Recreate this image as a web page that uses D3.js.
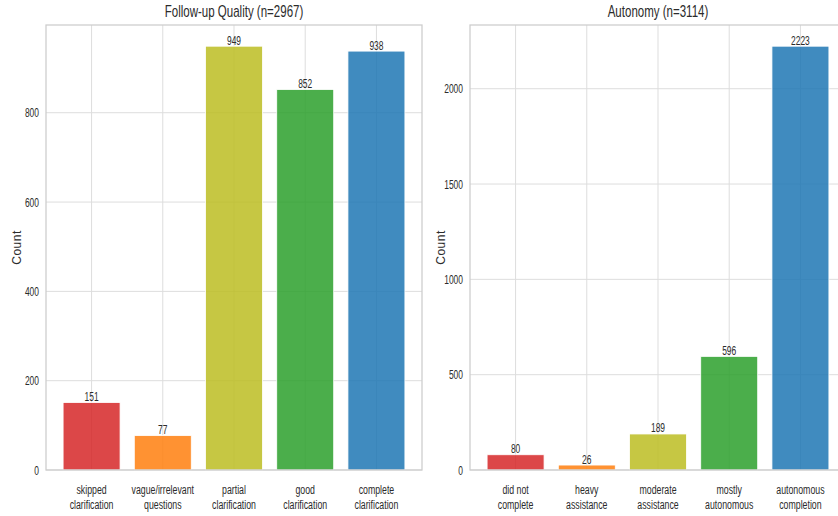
<!DOCTYPE html>
<html>
<head>
<meta charset="utf-8">
<script src="https://cdn.jsdelivr.net/npm/d3@7"></script>
<style>
  body { margin: 0; background: #fff; }
  text { font-family: "Liberation Sans", Arial, sans-serif; fill: #2b2b2b; }
</style>
</head>
<body>
<div id="chart"></div>
<script>
// data
var followCats = ["skipped\nclarification", "vague/irrelevant\nquestions", "partial\nclarification", "good\nclarification", "complete\nclarification"];
var followVals = [151, 77, 949, 852, 938];
var followTicks = [0, 200, 400, 600, 800];

var autoCats = ["did not\ncomplete", "heavy\nassistance", "moderate\nassistance", "mostly\nautonomous", "autonomous\ncompletion"];
var autoVals = [80, 26, 189, 596, 2223];
var autoTicks = [0, 500, 1000, 1500, 2000];

var colors = ["#d62728", "#ff7f0e", "#bcbd22", "#2ca02c", "#1f77b4"];

var svgWidth = 838;
var svgHeight = 516;

var svg = d3.select("#chart")
  .append("svg")
  .attr("width", svgWidth)
  .attr("height", svgHeight);

// no narrow font installed, so squeeze text horizontally
function narrowText(g, x, y, str, size, anchor, squeeze) {
  return g.append("text")
    .attr("transform", `translate(${x}, ${y}) scale(${squeeze || 0.65}, 1)`)
    .attr("text-anchor", anchor || "middle")
    .style("font-size", size + "px")
    .text(str);
}

function drawPanel(left, title, cats, vals, ticks) {
  var width = 376;
  var top = 25;
  var height = 445;

  var g = svg.append("g")
    .attr("transform", `translate(${left}, ${top})`);

  // matplotlib-like x range: bars at 0..n-1, width 0.8, 5% margins
  var n = cats.length;
  var x = d3.scaleLinear()
    .domain([-0.4 - 0.05 * (n - 0.2), n - 0.6 + 0.05 * (n - 0.2)])
    .range([0, width]);
  var y = d3.scaleLinear()
    .domain([0, d3.max(vals) * 1.05])
    .range([height, 0]);

  // grid
  g.selectAll(".hgrid")
    .data(ticks)
    .enter()
    .append("line")
    .attr("x1", 0)
    .attr("x2", width)
    .attr("y1", d => y(d))
    .attr("y2", d => y(d))
    .attr("stroke", "#dddddd")
    .attr("stroke-width", 1);

  g.selectAll(".vgrid")
    .data(d3.range(n))
    .enter()
    .append("line")
    .attr("x1", d => x(d))
    .attr("x2", d => x(d))
    .attr("y1", 0)
    .attr("y2", height)
    .attr("stroke", "#dddddd")
    .attr("stroke-width", 1);

  // bars
  g.selectAll("rect")
    .data(vals)
    .enter()
    .append("rect")
    .attr("x", (d, i) => x(i - 0.4))
    .attr("y", d => y(d))
    .attr("width", x(0.4) - x(-0.4))
    .attr("height", d => height - y(d))
    .attr("fill", (d, i) => colors[i])
    .attr("fill-opacity", 0.85)
    .attr("stroke", "#ffffff")
    .attr("stroke-width", 0.8);

  vals.forEach(function(d, i) {
    narrowText(g, x(i), y(d) - 1.5, d, 13);
  });

  // spines
  g.append("rect")
    .attr("x", 0)
    .attr("y", 0)
    .attr("width", width)
    .attr("height", height)
    .attr("fill", "none")
    .attr("stroke", "#cccccc")
    .attr("stroke-width", 1.25);

  // y tick labels
  ticks.forEach(function(t) {
    narrowText(g, -7, y(t) + 4.5, t, 13, "end");
  });

  // category labels
  cats.forEach(function(c, i) {
    c.split("\n").forEach(function(line, k) {
      narrowText(g, x(i), height + 24 + k * 15, line, 13.5);
    });
  });

  narrowText(g, width / 2, -8, title, 16, "middle", 0.72);

  g.append("text")
    .attr("transform", "rotate(-90)")
    .attr("x", -height / 2)
    .attr("y", -25)
    .attr("text-anchor", "middle")
    .style("font-size", "12px")
    .style("letter-spacing", "0.5px")
    .text("Count");
}

drawPanel(46, "Follow-up Quality (n=2967)", followCats, followVals, followTicks);
drawPanel(470, "Autonomy (n=3114)", autoCats, autoVals, autoTicks);
</script>
</body>
</html>
